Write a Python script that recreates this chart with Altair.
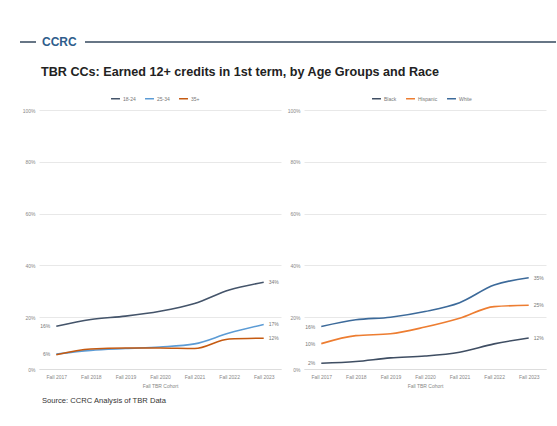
import altair as alt
import pandas as pd

years = ["Fall 2017", "Fall 2018", "Fall 2019", "Fall 2020", "Fall 2021", "Fall 2022", "Fall 2023"]

age_groups = ["18-24", "25-34", "35+"]
age_1824 = [16.5, 19.1, 20.4, 22.3, 25.3, 30.5, 33.5]
age_2534 = [5.8, 7.2, 7.9, 8.5, 9.7, 13.9, 17.2]
age_35 = [5.5, 7.7, 8.1, 8.1, 7.9, 11.6, 11.9]
age_colors = ["#44546A", "#5B9BD5", "#C55A11"]

races = ["Black", "Hispanic", "White"]
race_black = [2.2, 2.9, 4.3, 5.0, 6.5, 9.7, 12.0]
race_hisp = [9.8, 12.9, 13.6, 16.2, 19.6, 24.1, 24.6]
race_white = [16.4, 19.0, 20.0, 22.2, 25.6, 32.4, 35.2]
race_colors = ["#3F4E63", "#ED7D31", "#3C6A9A"]

FONT = "Liberation Sans"
HX = -39  # header horizontal offset (header origin aligns with the left plot)


def long_df(names, series):
    rows = []
    for n, vals in zip(names, series):
        for y, v in zip(years, vals):
            rows.append({"year": y, "group": n, "value": v})
    return pd.DataFrame(rows)


one = pd.DataFrame({"k": [0]})


def panel(names, series, colors, start_idx, legend_x, extra=None):
    df = long_df(names, series)
    x = alt.X("year:N", sort=years, scale=alt.Scale(padding=0.5),
              axis=alt.Axis(labelAngle=0, labelFontSize=5, labelColor="#888", labelFont=FONT,
                            domainColor="#dddddd", ticks=False, grid=False,
                            title="Fall TBR Cohort", titleFontSize=5, titleColor="#888",
                            titleFont=FONT, titleFontWeight="normal", titlePadding=4,
                            labelPadding=5))
    y = alt.Y("value:Q", scale=alt.Scale(domain=[0, 100]),
              axis=alt.Axis(values=[0, 20, 40, 60, 80, 100], labelExpr="datum.value + '%'",
                            gridColor="#e8e8e8", domain=False, ticks=False, labelFontSize=5,
                            labelColor="#888", labelFont=FONT, title=None, labelPadding=4))
    lines = alt.Chart(df).mark_line(interpolate="monotone", strokeWidth=1.6).encode(
        x=x, y=y,
        color=alt.Color("group:N", sort=names,
                        scale=alt.Scale(domain=names, range=colors),
                        legend=alt.Legend(orient="none", legendX=legend_x, legendY=-17,
                                          direction="horizontal", title=None,
                                          symbolType="stroke", symbolStrokeWidth=1.5,
                                          symbolSize=80, labelFontSize=5, labelColor="#777",
                                          labelFont=FONT, columnPadding=6, labelOffset=2)))
    end_df = df[df["year"] == years[-1]].copy()
    end_df["lab"] = end_df["value"].round().astype(int).astype(str) + "%"
    start_df = df[(df["year"] == years[0]) & (df["group"].isin([names[i] for i in start_idx]))].copy()
    start_df["lab"] = start_df["value"].round().astype(int).astype(str) + "%"
    end_lab = alt.Chart(end_df).mark_text(align="left", dx=5, fontSize=5, color="#777", font=FONT).encode(
        x=alt.X("year:N", sort=years), y="value:Q", text="lab:N")
    start_lab = alt.Chart(start_df).mark_text(align="right", dx=-6, fontSize=5, color="#777", font=FONT).encode(
        x=alt.X("year:N", sort=years), y="value:Q", text="lab:N")
    layers = [lines, end_lab, start_lab]
    if extra:
        layers += extra
    return alt.layer(*layers).properties(width=242, height=259)


# header (page coordinates shifted by HX)
h_anchor = alt.Chart(one).mark_rule(strokeWidth=0.01, opacity=0).encode(
    x=alt.value(0 + HX), x2=alt.value(1 + HX), y=alt.value(0))
header_line_l = alt.Chart(one).mark_rule(color="#34495E", strokeWidth=1.5).encode(
    x=alt.value(20 + HX), x2=alt.value(36 + HX), y=alt.value(42))
header_line_r = alt.Chart(one).mark_rule(color="#34495E", strokeWidth=1.5).encode(
    x=alt.value(85 + HX), x2=alt.value(556 + HX), y=alt.value(42))
header_txt = alt.Chart(one).mark_text(text="CCRC", align="left", baseline="middle", fontSize=12,
                                      fontWeight="bold", color="#2F5D8C", font=FONT).encode(
    x=alt.value(42 + HX), y=alt.value(42))
title_txt = alt.Chart(one).mark_text(text="TBR CCs: Earned 12+ credits in 1st term, by Age Groups and Race",
                                     align="left", baseline="middle", fontSize=12.6, fontWeight="bold",
                                     color="#222222", font=FONT).encode(
    x=alt.value(41 + HX), y=alt.value(72))
header = alt.layer(h_anchor, header_line_l, header_line_r, header_txt, title_txt).properties(
    width=500, height=80)

# panels
p_anchor = alt.Chart(one).mark_rule(strokeWidth=0.01, opacity=0).encode(
    x=alt.value(-39), x2=alt.value(-38), y=alt.value(-30))
source_txt = alt.Chart(one).mark_text(text="Source: CCRC Analysis of TBR Data", align="left",
                                      baseline="middle", fontSize=7.6, color="#333333", font=FONT).encode(
    x=alt.value(3), y=alt.value(291))

left = panel(age_groups, [age_1824, age_2534, age_35], age_colors, [0, 1], 71,
             extra=[p_anchor, source_txt])
right = panel(races, [race_black, race_hisp, race_white], race_colors, [0, 1, 2], 67)

body = alt.hconcat(left, right, spacing=6).resolve_scale(color="independent")

chart = alt.vconcat(header, body, spacing=0).resolve_scale(color="independent").properties(
    padding=0,
    background="white",
).configure_view(stroke=None)

chart.save("out.html", embed_options={"renderer": "svg", "actions": False})
